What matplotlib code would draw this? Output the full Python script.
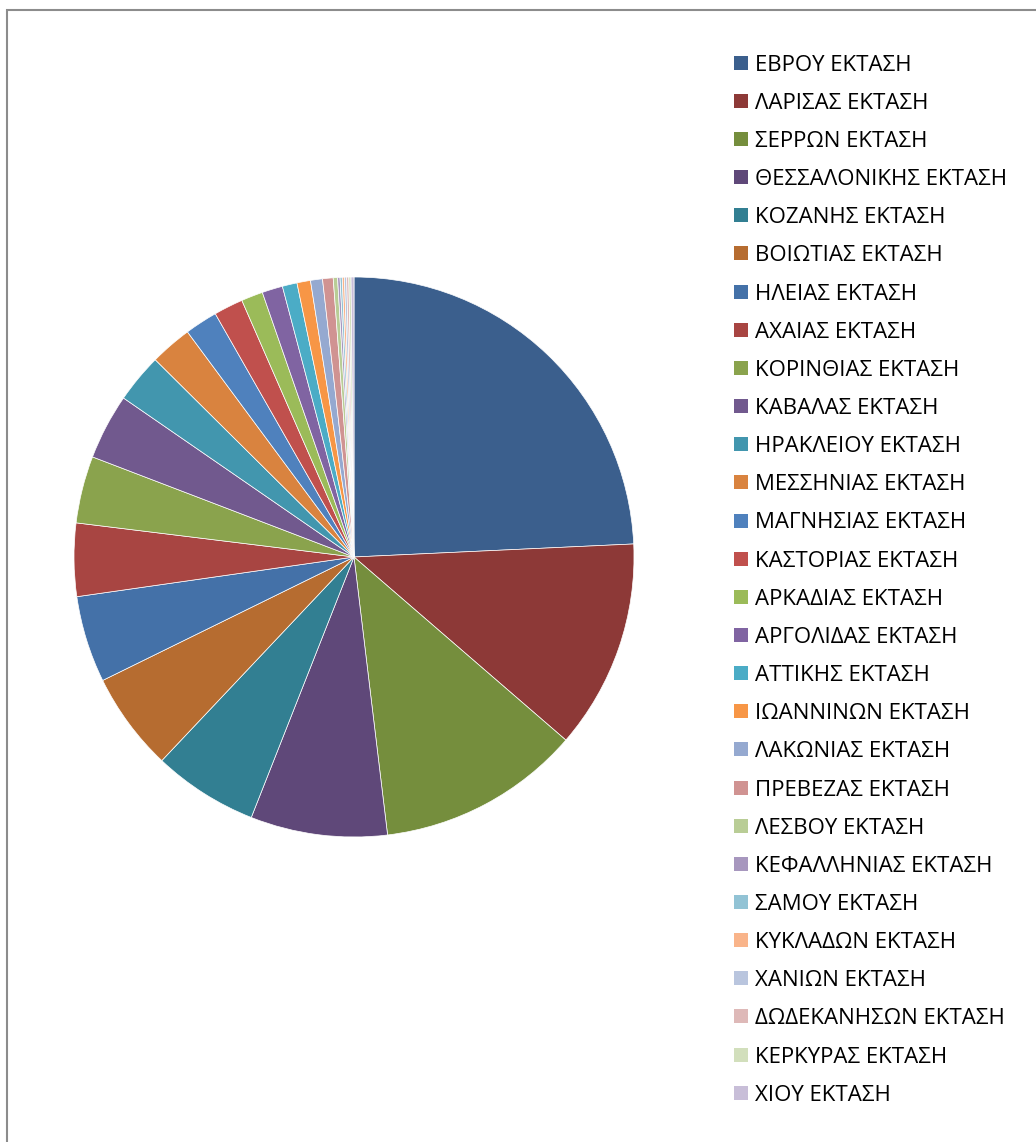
import matplotlib.pyplot as plt
from matplotlib.patches import Rectangle

# Νομοί και ποσοστό έκτασης (%)
nomoi = ["ΕΒΡΟΥ", "ΛΑΡΙΣΑΣ", "ΣΕΡΡΩΝ", "ΘΕΣΣΑΛΟΝΙΚΗΣ", "ΚΟΖΑΝΗΣ", "ΒΟΙΩΤΙΑΣ",
         "ΗΛΕΙΑΣ", "ΑΧΑΙΑΣ", "ΚΟΡΙΝΘΙΑΣ", "ΚΑΒΑΛΑΣ", "ΗΡΑΚΛΕΙΟΥ", "ΜΕΣΣΗΝΙΑΣ",
         "ΜΑΓΝΗΣΙΑΣ", "ΚΑΣΤΟΡΙΑΣ", "ΑΡΚΑΔΙΑΣ", "ΑΡΓΟΛΙΔΑΣ", "ΑΤΤΙΚΗΣ", "ΙΩΑΝΝΙΝΩΝ",
         "ΛΑΚΩΝΙΑΣ", "ΠΡΕΒΕΖΑΣ", "ΛΕΣΒΟΥ", "ΚΕΦΑΛΛΗΝΙΑΣ", "ΣΑΜΟΥ", "ΚΥΚΛΑΔΩΝ",
         "ΧΑΝΙΩΝ", "ΔΩΔΕΚΑΝΗΣΩΝ", "ΚΕΡΚΥΡΑΣ", "ΧΙΟΥ"]
ektasi = [24.25, 12.08, 11.74, 7.89, 6.06, 5.69,
          5.00, 4.21, 3.87, 3.79, 2.83, 2.42,
          1.89, 1.69, 1.25, 1.19, 0.85, 0.78,
          0.69, 0.61, 0.25, 0.14, 0.125, 0.125,
          0.125, 0.125, 0.125, 0.17]
labels = [n + " ΕΚΤΑΣΗ" for n in nomoi]

# χρώματα τύπου excel (σκούρα, βασικά, ανοιχτά)
xrwmata = ["#3B5F8D", "#8D3937", "#758E3D", "#5F4879", "#327F92", "#B66C30",
           "#4471A8", "#A84542", "#8AA34D", "#71598E", "#4296AE", "#D9833F",
           "#4F81BD", "#C0504D", "#9BBB59", "#8064A2", "#4BACC6", "#F79646",
           "#95A9D0", "#D09392", "#B9CD96", "#A797BE", "#92C3D5", "#F9B48A",
           "#B9C5DE", "#DEB9B8", "#D2DFBC", "#C8BED8"]

W, H = 1036, 1142
fig = plt.figure(figsize=(W / 100, H / 100), dpi=100)

# πλαίσιο γραφήματος
fig.patches.append(Rectangle((6.5 / W, -0.1), 2.0, 1 - 9.5 / H + 0.1,
                             transform=fig.transFigure, fill=False,
                             edgecolor="#8C8C8C", linewidth=1.5))

cx, cy, r = 354, 557, 280
ax = fig.add_axes([(cx - r) / W, 1 - (cy + r) / H, 2 * r / W, 2 * r / H])
ax.pie(ektasi, colors=xrwmata, startangle=90, counterclock=False, radius=1,
       wedgeprops=dict(edgecolor="white", linewidth=0.5))
ax.set_xlim(-1, 1)
ax.set_ylim(-1, 1)
ax.set_aspect("equal")
ax.axis("off")

# υπόμνημα
y0 = 62.7
step = 38.15
for i, (lab, col) in enumerate(zip(labels, xrwmata)):
    y = y0 + i * step
    fig.patches.append(Rectangle((733.5 / W, 1 - (y + 7) / H), 14 / W, 14 / H,
                                 transform=fig.transFigure, facecolor=col,
                                 edgecolor="none"))
    fig.text(755 / W, 1 - y / H, lab, fontsize=16, family="Open Sans",
             va="center_baseline", ha="left", color="black")

fig.savefig("out.png", dpi=100)
